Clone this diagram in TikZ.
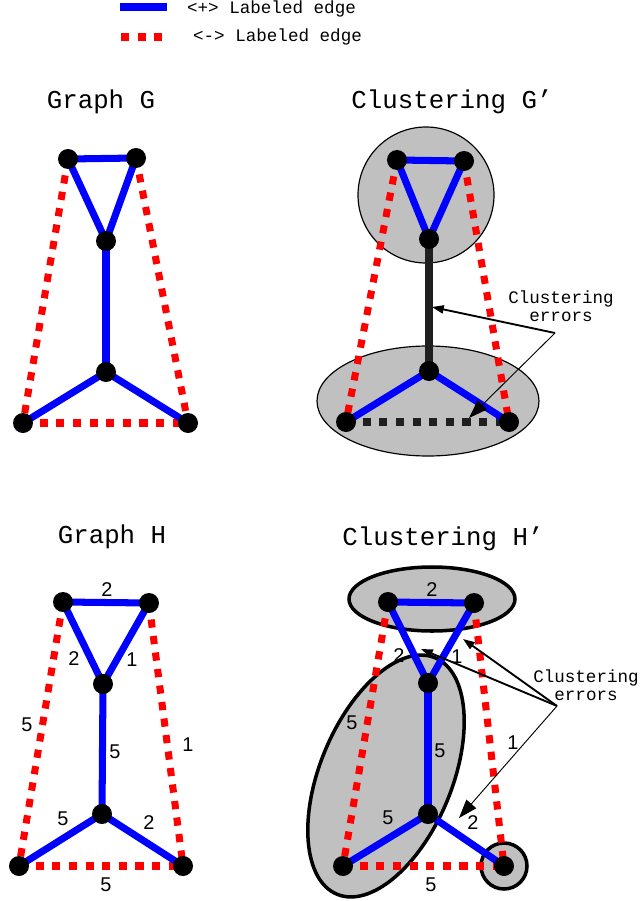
\documentclass[tikz,border=0pt]{standalone}
\usepackage{fontspec}
\setmonofont{Liberation Mono}
\setsansfont{Liberation Sans}
\usetikzlibrary{arrows.meta,backgrounds}
\definecolor{clustergray}{RGB}{192,192,192}
\definecolor{plusblue}{RGB}{0,0,255}
\definecolor{minusred}{RGB}{255,0,0}
\begin{document}
\begin{tikzpicture}[x=0.03cm,y=-0.03cm,
  vtx/.style={circle,fill=black,inner sep=0pt,minimum size=0.6cm},
  plusedge/.style={line width=6pt,plusblue},
  minusedge/.style={line width=6pt,minusred,dash pattern=on 7pt off 7.2pt},
  erredge/.style={line width=6pt,black!88},
  errdash/.style={erredge,dash pattern=on 7pt off 7.2pt},
  title/.style={font=\ttfamily\fontsize{22}{26}\selectfont},
  legtext/.style={font=\ttfamily\fontsize{15}{18}\selectfont,anchor=west,inner ysep=1pt},
  note/.style={font=\ttfamily\fontsize{15}{15.6}\selectfont,align=center},
  wt/.style={font=\sffamily\fontsize{17}{20}\selectfont,inner sep=0pt},
  clu/.style={draw=black,fill=clustergray,line width=1pt},
  cluthick/.style={clu,line width=3pt},
  ptr/.style={-{Triangle[length=10pt,width=7pt]},line width=1.6pt},
  ptrthin/.style={-{Triangle[length=16pt,width=11pt]},line width=0.8pt}]
\useasboundingbox (0,0) rectangle (639,901);
% legend
\coordinate (lb1) at (120,7);
\coordinate (lb2) at (167,7);
\coordinate (lr1) at (121,37);
\coordinate (lr2) at (167,37);
\draw[plusedge] (lb1) -- (lb2);
\draw[minusedge] (lr1) -- (lr2);
\node[legtext] (lplus) at (183,9) {<+> Labeled edge};
\node[legtext] (lminus) at (189,37) {<-> Labeled edge};

% graph G
\node[title] (tG) at (101,102) {Graph G};
\node[vtx] (g1) at (68,159) {};
\node[vtx] (g2) at (136,158) {};
\node[vtx] (g3) at (106,241) {};
\node[vtx] (g4) at (106,372) {};
\node[vtx] (g5) at (23,423) {};
\node[vtx] (g6) at (188,423) {};
\begin{scope}[on background layer]
  \draw[minusedge] (g1.center) -- (g5.center);
  \draw[minusedge] (g2.center) -- (g6.center);
  \draw[minusedge] (g5.center) -- (g6.center);
  \draw[plusedge] (g1.center) -- (g2.center);
  \draw[plusedge] (g1.center) -- (g3.center);
  \draw[plusedge] (g2.center) -- (g3.center);
  \draw[plusedge] (g3.center) -- (g4.center);
  \draw[plusedge] (g4.center) -- (g5.center);
  \draw[plusedge] (g4.center) -- (g6.center);
\end{scope}

% clustering G'
\node[title] (tGc) at (452,102) {Clustering G’};
\node[vtx] (c1) at (397,160) {};
\node[vtx] (c2) at (464,161) {};
\node[vtx] (c3) at (429,239) {};
\node[vtx] (c4) at (429,371) {};
\node[vtx] (c5) at (346,422) {};
\node[vtx] (c6) at (509,422) {};
\begin{scope}[on background layer]
  \draw[clu] (426,195) circle[radius=68];
  \draw[clu] (428,401) ellipse[x radius=111,y radius=55];
  \draw[minusedge] (c1.center) -- (c5.center);
  \draw[minusedge] (c2.center) -- (c6.center);
  \draw[errdash] (c5.center) -- (c6.center);
  \draw[plusedge] (c1.center) -- (c2.center);
  \draw[plusedge] (c1.center) -- (c3.center);
  \draw[plusedge] (c2.center) -- (c3.center);
  \draw[erredge] (c3.center) -- (c4.center);
  \draw[plusedge] (c4.center) -- (c5.center);
  \draw[plusedge] (c4.center) -- (c6.center);
\end{scope}
\node[note] (errG) at (561,306) {Clustering\\errors};
\coordinate (srcG) at (555,333);
\coordinate (hitG1) at (432,307);
\coordinate (hitG2) at (469,418);
\draw[ptr] (srcG) -- (hitG1);
\draw[ptrthin] (srcG) -- (hitG2);

% graph H
\node[title] (tH) at (112,537) {Graph H};
\node[vtx] (h1) at (63,602) {};
\node[vtx] (h2) at (149,603) {};
\node[vtx] (h3) at (103,684) {};
\node[vtx] (h4) at (102,814) {};
\node[vtx] (h5) at (19,866) {};
\node[vtx] (h6) at (183,866) {};
\begin{scope}[on background layer]
  \draw[minusedge] (h1.center) -- (h5.center);
  \draw[minusedge] (h2.center) -- (h6.center);
  \draw[minusedge] (h5.center) -- (h6.center);
  \draw[plusedge] (h1.center) -- (h2.center);
  \draw[plusedge] (h1.center) -- (h3.center);
  \draw[plusedge] (h2.center) -- (h3.center);
  \draw[plusedge] (h3.center) -- (h4.center);
  \draw[plusedge] (h4.center) -- (h5.center);
  \draw[plusedge] (h4.center) -- (h6.center);
\end{scope}
\node[wt] (wh12) at (107,590) {2};
\node[wt] (wh13) at (74,659) {2};
\node[wt] (wh23) at (132,660) {1};
\node[wt] (wh15) at (27,725) {5};
\node[wt] (wh34) at (115,752) {5};
\node[wt] (wh26) at (188,745) {1};
\node[wt] (wh45) at (63,819) {5};
\node[wt] (wh46) at (149,823) {2};
\node[wt] (wh56) at (106,885) {5};

% clustering H'
\node[title] (tHc) at (443,539) {Clustering H’};
\node[vtx] (k1) at (388,602) {};
\node[vtx] (k2) at (474,603) {};
\node[vtx] (k3) at (428,683) {};
\node[vtx] (k4) at (428,814) {};
\node[vtx] (k5) at (343,866) {};
\node[vtx] (k6) at (504,866) {};
\begin{scope}[on background layer]
  \draw[cluthick] (432,599) ellipse[x radius=83,y radius=32];
  \draw[cluthick,rotate around={-22.5:(386,776)}] (386,776) ellipse[x radius=66,y radius=128];
  \draw[cluthick] (504,866) circle[radius=23];
  \draw[minusedge] (k1.center) -- (k5.center);
  \draw[minusedge] (k2.center) -- (k6.center);
  \draw[minusedge] (k5.center) -- (k6.center);
  \draw[plusedge] (k1.center) -- (k2.center);
  \draw[plusedge] (k1.center) -- (k3.center);
  \draw[plusedge] (k2.center) -- (k3.center);
  \draw[plusedge] (k3.center) -- (k4.center);
  \draw[plusedge] (k4.center) -- (k5.center);
  \draw[plusedge] (k4.center) -- (k6.center);
\end{scope}
\node[wt] (wk12) at (432,590) {2};
\node[wt] (wk13) at (399,656) {2};
\node[wt] (wk23) at (457,657) {1};
\node[wt] (wk15) at (352,723) {5};
\node[wt] (wk34) at (440,751) {5};
\node[wt] (wk26) at (513,743) {1};
\node[wt] (wk45) at (388,818) {5};
\node[wt] (wk46) at (473,823) {2};
\node[wt] (wk56) at (431,885) {5};
\node[note] (errH) at (586,685) {Clustering\\errors};
\coordinate (srcH) at (557,706);
\coordinate (hitH1) at (463,639);
\coordinate (hitH2) at (421,649);
\coordinate (hitH3) at (459,818);
\draw[ptr] (srcH) -- (hitH1);
\draw[ptr] (srcH) -- (hitH2);
\draw[ptrthin] (srcH) -- (hitH3);
\end{tikzpicture}
\end{document}
